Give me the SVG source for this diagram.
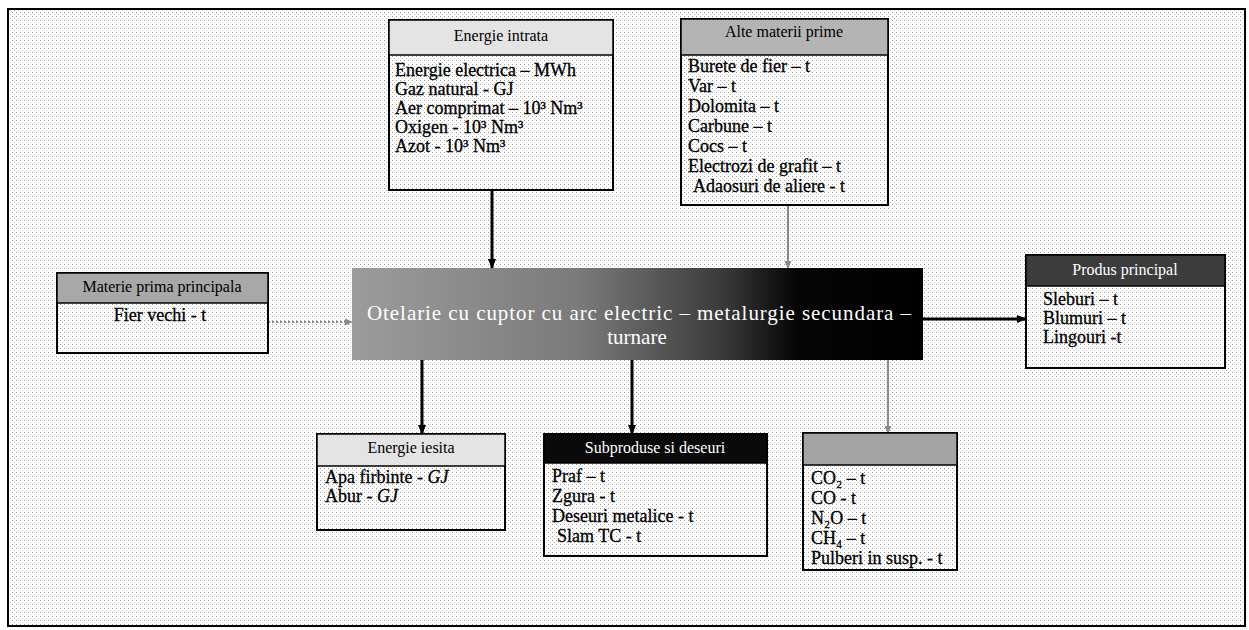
<svg xmlns="http://www.w3.org/2000/svg" width="1249" height="630" viewBox="0 0 1249 630">
<defs>
<pattern id="dots" width="4" height="4" patternUnits="userSpaceOnUse">
<rect width="4" height="4" fill="#ffffff"/>
<rect x="0" y="0" width="1" height="1" fill="#9a9a9a"/>
<rect x="2" y="2" width="1" height="1" fill="#d0d0d0"/>
</pattern>
<linearGradient id="grad" x1="0" y1="0" x2="1" y2="0">
<stop offset="0" stop-color="#9c9c9c"/>
<stop offset="0.4" stop-color="#7a7a7a"/>
<stop offset="0.65" stop-color="#3a3a3a"/>
<stop offset="0.78" stop-color="#050505"/>
<stop offset="1" stop-color="#000000"/>
</linearGradient>
<marker id="ahB" markerWidth="10" markerHeight="8" refX="9" refY="4" orient="auto" markerUnits="userSpaceOnUse">
<path d="M0,0 L10,4 L0,8 Z" fill="#000"/>
</marker>
<marker id="ahG" markerWidth="8" markerHeight="7" refX="7" refY="3.5" orient="auto" markerUnits="userSpaceOnUse">
<path d="M0,0 L8,3.5 L0,7 Z" fill="#8a8a8a"/>
</marker>
</defs>
<style>
.box{fill:url(#dots);stroke:#000;stroke-width:2}
.hdr{stroke:#000;stroke-width:1.5}
.t{font-family:"Liberation Serif","DejaVu Serif","Times New Roman",serif;font-size:18px;fill:#000;stroke:#000;stroke-width:0.3}
.h{font-family:"Liberation Serif","Times New Roman",serif;font-size:16px;fill:#000;text-anchor:middle}
.hw{fill:#fff}
.main{font-family:"Liberation Serif","Times New Roman",serif;font-size:21px;fill:#fff;text-anchor:middle}
.ab{stroke:#000;stroke-width:3;fill:none;marker-end:url(#ahB)}
.ag{stroke:#8a8a8a;stroke-width:2;fill:none;marker-end:url(#ahG)}
.ad{stroke:#8a8a8a;stroke-width:2;stroke-dasharray:2 2;fill:none;marker-end:url(#ahG)}
</style>
<rect x="0" y="0" width="1249" height="630" fill="#fff"/>
<rect x="8" y="9" width="1237" height="617" fill="url(#dots)" stroke="#000" stroke-width="2"/>

<g id="connectors">
<line class="ab" x1="492" y1="190" x2="492" y2="268"/>
<line class="ag" x1="788" y1="205" x2="788" y2="268"/>
<line class="ad" x1="268" y1="322" x2="352" y2="322"/>
<line class="ab" x1="923" y1="319" x2="1026" y2="319"/>
<line class="ab" x1="422" y1="360" x2="422" y2="434"/>
<line class="ab" x1="632" y1="360" x2="632" y2="434"/>
<line class="ag" x1="888" y1="360" x2="888" y2="433"/>
</g>

<g id="energie-intrata">
<rect class="box" x="389" y="20" width="224" height="170"/>
<rect class="hdr" x="389" y="20" width="224" height="35" fill="#e4e4e4"/>
<text class="h" x="501" y="41">Energie intrata</text>
<text class="t" x="395" y="76">Energie electrica – MWh</text>
<text class="t" x="395" y="95">Gaz  natural - GJ</text>
<text class="t" x="395" y="114">Aer comprimat  – 10³ Nm³</text>
<text class="t" x="395" y="133">Oxigen  - 10³ Nm³</text>
<text class="t" x="395" y="152">Azot -   10³ Nm³</text>
</g>

<g id="alte-materii">
<rect class="box" x="681" y="19" width="207" height="186"/>
<rect class="hdr" x="681" y="19" width="207" height="36" fill="#b4b4b4"/>
<text class="h" x="784" y="37">Alte materii prime</text>
<text class="t" x="688" y="72">Burete de fier – t</text>
<text class="t" x="688" y="92">Var – t</text>
<text class="t" x="688" y="112">Dolomita – t</text>
<text class="t" x="688" y="132">Carbune – t</text>
<text class="t" x="688" y="152">Cocs – t</text>
<text class="t" x="688" y="172">Electrozi  de grafit – t</text>
<text class="t" x="693" y="192">Adaosuri de aliere - t</text>
</g>

<g id="materie-prima">
<rect class="box" x="57" y="273" width="211" height="80"/>
<rect class="hdr" x="57" y="273" width="211" height="30" fill="#a8a8a8"/>
<text class="h" x="162" y="292">Materie prima principala</text>
<text class="t" x="160" y="321" text-anchor="middle">Fier vechi - t</text>
</g>

<g id="otelarie">
<rect x="352" y="268" width="571" height="92" fill="url(#grad)"/>
<text class="main" x="639" y="320" textLength="544" lengthAdjust="spacing">Otelarie cu cuptor cu arc electric – metalurgie secundara –</text>
<text class="main" x="637" y="344">turnare</text>
</g>

<g id="produs-principal">
<rect class="box" x="1026" y="255" width="199" height="113"/>
<rect class="hdr" x="1026" y="255" width="199" height="31" fill="#3c3c3c"/>
<text class="h hw" x="1125" y="275">Produs principal</text>
<text class="t" x="1043" y="305">Sleburi – t</text>
<text class="t" x="1043" y="324">Blumuri  – t</text>
<text class="t" x="1043" y="343">Lingouri -t</text>
</g>

<g id="energie-iesita">
<rect class="box" x="317" y="434" width="188" height="96"/>
<rect class="hdr" x="317" y="434" width="188" height="32" fill="#e4e4e4"/>
<text class="h" x="411" y="453">Energie iesita</text>
<text class="t" x="325" y="483">Apa firbinte - <tspan font-style="italic">GJ</tspan></text>
<text class="t" x="325" y="502">Abur - <tspan font-style="italic">GJ</tspan></text>
</g>

<g id="subproduse">
<rect class="box" x="544" y="434" width="223" height="122"/>
<rect class="hdr" x="544" y="434" width="223" height="29" fill="#0a0a0a"/>
<text class="h hw" x="655" y="453">Subproduse si deseuri</text>
<text class="t" x="552" y="482">Praf –  t</text>
<text class="t" x="552" y="502">Zgura - t</text>
<text class="t" x="552" y="522">Deseuri metalice - t</text>
<text class="t" x="557" y="542">Slam  TC - t</text>
</g>

<g id="emisii">
<rect class="box" x="803" y="433" width="154" height="137"/>
<rect class="hdr" x="803" y="433" width="154" height="32" fill="#a4a4a4"/>
<text class="t" x="811" y="484">CO₂ – t</text>
<text class="t" x="811" y="504">CO - t</text>
<text class="t" x="811" y="524">N₂O – t</text>
<text class="t" x="811" y="544">CH₄ – t</text>
<text class="t" x="811" y="564">Pulberi in susp. - t</text>
</g>
</svg>
